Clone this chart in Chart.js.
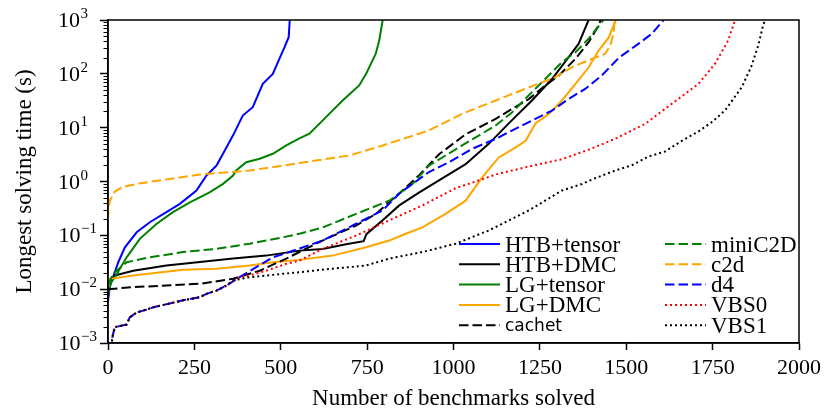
<!DOCTYPE html>
<html>
<head>
<meta charset="utf-8">
<script src="https://cdn.jsdelivr.net/npm/chart.js@4.4.0/dist/chart.umd.min.js"></script>
<style>
  html, body { margin: 0; padding: 0; background: #fff; }
</style>
</head>
<body>
<canvas id="plot" width="826" height="409"></canvas>
<script>
// benchmarks solved (x) and longest solving time in seconds (y)
const htbTensorN = [0, 5, 15, 30, 49, 83, 121, 169, 208, 256, 275, 285, 314, 338, 362, 390, 419, 448, 477, 496, 511, 523, 526];
const htbTensorT = [0.006, 0.011, 0.017, 0.032, 0.060, 0.114, 0.175, 0.27, 0.385, 0.68, 1.04, 1.29, 1.98, 3.77, 7.2, 16.8, 24, 65, 100, 190, 313, 480, 1000];

const htbDmcN = [0, 5, 20, 73, 169, 266, 362, 458, 554, 621, 689, 740, 748, 795, 843, 900, 958, 1035, 1102, 1160, 1227, 1285, 1324, 1362, 1391];
const htbDmcT = [0.010, 0.014, 0.018, 0.022, 0.0275, 0.032, 0.037, 0.042, 0.052, 0.056, 0.068, 0.078, 0.105, 0.19, 0.36, 0.62, 1.05, 2.1, 5, 12, 32, 80, 170, 360, 1000];

const lgTensorN = [0, 8, 20, 54, 92, 141, 188, 237, 294, 333, 362, 371, 400, 439, 477, 516, 554, 583, 631, 679, 727, 747, 775, 785, 795];
const lgTensorT = [0.008, 0.013, 0.0167, 0.039, 0.086, 0.164, 0.27, 0.41, 0.63, 0.905, 1.29, 1.6, 2.28, 2.64, 3.27, 4.67, 6.3, 7.7, 15.7, 32, 61, 100, 236, 417, 1000];

const lgDmcN = [0, 6, 73, 217, 314, 410, 477, 554, 650, 747, 814, 862, 910, 977, 1035, 1083, 1131, 1180, 1209, 1237, 1276, 1314, 1353, 1391, 1420, 1449, 1470];
const lgDmcT = [0.011, 0.0156, 0.018, 0.023, 0.024, 0.0275, 0.0317, 0.035, 0.042, 0.060, 0.080, 0.107, 0.14, 0.25, 0.44, 1.19, 2.8, 4.3, 5.7, 12, 18, 32, 65, 131, 270, 470, 1000];

const cachetN = [0, 73, 169, 266, 362, 439, 516, 554, 621, 718, 775, 843, 900, 958, 1035, 1122, 1170, 1218, 1266, 1305, 1353, 1391, 1420, 1426];
const cachetT = [0.010, 0.0109, 0.0117, 0.0126, 0.0156, 0.022, 0.037, 0.049, 0.080, 0.152, 0.25, 0.6, 1.3, 3.2, 7.5, 14.6, 22.4, 34, 61, 93, 190, 387, 790, 1000];

const miniC2dN = [0, 15, 54, 121, 217, 314, 410, 506, 554, 621, 718, 814, 881, 929, 977, 1025, 1074, 1122, 1170, 1218, 1266, 1314, 1353, 1391, 1434];
const miniC2dT = [0.012, 0.0193, 0.0317, 0.039, 0.049, 0.056, 0.070, 0.092, 0.107, 0.14, 0.25, 0.44, 0.9, 1.98, 3.04, 4.67, 7.2, 11, 19.4, 40, 81, 165, 252, 448, 1000];

const c2dN = [0, 2, 6, 20, 40, 90, 266, 410, 554, 698, 795, 900, 929, 1025, 1122, 1218, 1295, 1343, 1401, 1439, 1454, 1463, 1466, 1467];
const c2dT = [0.2, 0.35, 0.45, 0.65, 0.78, 0.92, 1.35, 1.6, 2.2, 3.04, 4.67, 7.7, 8.9, 18, 32, 56, 87, 133, 190, 236, 336, 555, 910, 1000];

const d4N = [10, 12, 15, 20, 54, 63, 83, 102, 131, 217, 266, 285, 314, 343, 381, 429, 477, 525, 621, 718, 795, 843, 881, 929, 987, 1054, 1122, 1179, 1237, 1285, 1333, 1382, 1429, 1478, 1535, 1574, 1608];
const d4T = [0.0007, 0.0012, 0.0015, 0.00197, 0.0022, 0.003, 0.0037, 0.004, 0.0046, 0.0062, 0.0071, 0.0082, 0.0094, 0.0117, 0.0167, 0.0256, 0.039, 0.049, 0.080, 0.164, 0.29, 0.6, 0.9, 1.5, 2.28, 4.05, 6.2, 9.5, 14.6, 20.8, 34, 53, 93, 197, 361, 555, 1000];

const vbs0N = [10, 12, 15, 20, 54, 63, 83, 102, 131, 217, 266, 285, 314, 343, 381, 410, 458, 516, 554, 621, 718, 814, 910, 1006, 1083, 1122, 1218, 1314, 1391, 1468, 1555, 1632, 1709, 1757, 1795, 1815];
const vbs0T = [0.0007, 0.0012, 0.0015, 0.00197, 0.0022, 0.003, 0.0037, 0.004, 0.0046, 0.0062, 0.0071, 0.0082, 0.0094, 0.0117, 0.0167, 0.018, 0.022, 0.0296, 0.034, 0.056, 0.099, 0.19, 0.36, 0.75, 1.1, 1.35, 1.9, 2.6, 3.9, 6.2, 11.8, 27.8, 65, 154, 417, 1000];

const vbs1N = [10, 12, 15, 20, 54, 63, 83, 102, 131, 217, 266, 285, 314, 343, 362, 410, 506, 554, 650, 747, 814, 910, 1006, 1102, 1218, 1314, 1372, 1410, 1468, 1516, 1564, 1612, 1661, 1709, 1750, 1786, 1834, 1862, 1882, 1896, 1902];
const vbs1T = [0.0007, 0.0012, 0.0015, 0.00197, 0.0022, 0.003, 0.0037, 0.004, 0.0046, 0.0062, 0.0071, 0.0082, 0.0094, 0.0117, 0.0145, 0.0167, 0.0193, 0.0207, 0.024, 0.0275, 0.037, 0.049, 0.070, 0.123, 0.29, 0.68, 0.9, 1.15, 1.6, 2.0, 2.9, 3.6, 5.7, 8.5, 13, 21, 56, 137, 336, 790, 1000];

const seriesNames = ['HTB+tensor', 'HTB+DMC', 'LG+tensor', 'LG+DMC', 'cachet', 'miniC2D', 'c2d', 'd4', 'VBS0', 'VBS1'];
const xTicks = [0, 250, 500, 750, 1000, 1250, 1500, 1750, 2000];
const yDecades = [-3, -2, -1, 0, 1, 2, 3];

const serif = "'Liberation Serif', 'DejaVu Serif', serif";
const DASH = [9.5, 4];
const DOT = [2, 3];

function pts(ns, ts) {
  return ns.map((n, i) => ({ x: n, y: ts[i] }));
}

const styles = [
  { color: '#0000ff', dash: [] },
  { color: '#000000', dash: [] },
  { color: '#008000', dash: [] },
  { color: '#ffa500', dash: [] },
  { color: '#000000', dash: DASH },
  { color: '#008000', dash: DASH },
  { color: '#ffa500', dash: DASH },
  { color: '#0000ff', dash: DASH },
  { color: '#ff0000', dash: DOT },
  { color: '#000000', dash: DOT },
];
const seriesData = [
  pts(htbTensorN, htbTensorT), pts(htbDmcN, htbDmcT), pts(lgTensorN, lgTensorT), pts(lgDmcN, lgDmcT),
  pts(cachetN, cachetT), pts(miniC2dN, miniC2dT), pts(c2dN, c2dT), pts(d4N, d4T),
  pts(vbs0N, vbs0T), pts(vbs1N, vbs1T),
];

const datasets = seriesNames.map((name, i) => ({
  label: name,
  data: seriesData[i],
  borderColor: styles[i].color,
  borderDash: styles[i].dash,
  borderWidth: 2,
  pointRadius: 0,
  tension: 0,
  fill: false,
  clip: 0,
  order: -i,
}));

// minor ticks, y tick labels with exponents, box, legend
const extras = {
  id: 'extras',
  afterDraw(chart) {
    const { ctx, chartArea: a, scales: { y } } = chart;
    ctx.save();
    ctx.strokeStyle = '#000';
    ctx.lineWidth = 1;
    for (let e = -3; e < 3; e++) {
      for (let m = 2; m <= 9; m++) {
        const py = Math.round(y.getPixelForValue(m * Math.pow(10, e))) + 0.5;
        ctx.beginPath();
        ctx.moveTo(a.left - 4.5, py);
        ctx.lineTo(a.left, py);
        ctx.stroke();
      }
    }
    ctx.lineWidth = 1.5;
    ctx.strokeRect(a.left, a.top, a.right - a.left, a.bottom - a.top);

    ctx.fillStyle = '#000';
    ctx.textBaseline = 'alphabetic';
    ctx.textAlign = 'right';
    yDecades.forEach(e => {
      const py = y.getPixelForValue(Math.pow(10, e));
      const sup = e < 0 ? '\u2212' + (-e) : String(e);
      const right = e < 0 ? 97 : 88;
      ctx.font = '15px ' + serif;
      ctx.fillText(sup, right, py - 2);
      const w = ctx.measureText(sup).width;
      ctx.font = '22px ' + serif;
      ctx.fillText('10', right - w - 0.5, py + 7);
    });

    ctx.textAlign = 'left';
    chart.data.datasets.forEach((ds, i) => {
      const col = i < 5 ? 0 : 1;
      const row = i % 5;
      const x0 = col ? 665 : 459;
      const ly = 244 + row * 20.3;
      ctx.strokeStyle = ds.borderColor;
      ctx.lineWidth = 2;
      ctx.setLineDash(ds.borderDash);
      ctx.beginPath();
      ctx.moveTo(x0, ly);
      ctx.lineTo(x0 + 41, ly);
      ctx.stroke();
      ctx.setLineDash([]);
      ctx.font = ds.label === 'cachet' ? "17px 'DejaVu Sans', sans-serif" : '23px ' + serif;
      ctx.fillText(ds.label, x0 + 46, ly + (ds.label === 'cachet' ? 6 : 7.5));
    });
    ctx.restore();
  }
};

new Chart(document.getElementById('plot').getContext('2d'), {
  type: 'line',
  data: { datasets: datasets },
  plugins: [extras],
  options: {
    responsive: false,
    animation: false,
    devicePixelRatio: 1,
    layout: { padding: { left: 0, right: 25, top: 20, bottom: 0 } },
    plugins: { legend: { display: false }, tooltip: { enabled: false } },
    scales: {
      x: {
        type: 'linear',
        min: 0,
        max: 2000,
        afterBuildTicks: s => { s.ticks = xTicks.map(v => ({ value: v })); },
        ticks: {
          color: '#000', font: { family: serif, size: 22 }, padding: 5, maxRotation: 0, autoSkip: false,
          callback: v => String(v)
        },
        grid: { drawOnChartArea: false, drawTicks: true, tickLength: 7, tickColor: '#000', tickWidth: 1.5 },
        border: { display: true, color: '#000', width: 1.5 },
        title: {
          display: true, text: 'Number of benchmarks solved', color: '#000',
          font: { family: serif, size: 23, lineHeight: 0.9 }, padding: { top: 0, bottom: 0 }
        },
        afterFit: s => { s.height = 66; }
      },
      y: {
        type: 'logarithmic',
        min: 1e-3,
        max: 1e3,
        afterBuildTicks: s => { s.ticks = yDecades.map(e => ({ value: Math.pow(10, e) })); },
        ticks: { display: false },
        grid: { drawOnChartArea: false, drawTicks: true, tickLength: 8, tickColor: '#000', tickWidth: 1.5 },
        border: { display: true, color: '#000', width: 1.5 },
        title: {
          display: true, text: 'Longest solving time (s)', color: '#000',
          font: { family: serif, size: 23, lineHeight: 0.9 }, padding: { top: 15, bottom: 0 }
        },
        afterFit: s => { s.width = 108; }
      }
    }
  }
});
</script>
</body>
</html>
